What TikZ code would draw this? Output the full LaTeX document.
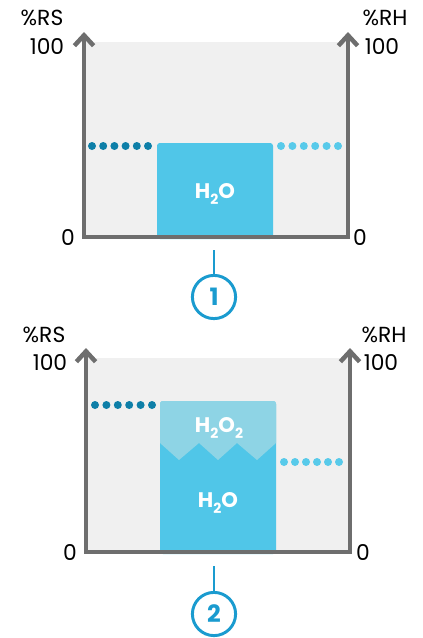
\documentclass[tikz,border=0pt]{standalone}
\usepackage{fontspec}
\setmainfont{Poppins}
\usepackage{tikz}
\usetikzlibrary{arrows.meta,positioning}
\definecolor{ejeGris}{HTML}{6E6E6E}
\definecolor{fondoGris}{HTML}{F0F0F0}
\definecolor{aguaAzul}{HTML}{50C6E8}
\definecolor{peroxAzul}{HTML}{8ED4E5}
\definecolor{puntoOscuro}{HTML}{0E7FA8}
\definecolor{puntoClaro}{HTML}{58CAEA}
\definecolor{marcaAzul}{HTML}{1A9BCF}
\newcommand{\indice}[1]{\raisebox{-0.55ex}{\fontsize{10}{10}\selectfont #1}}

\begin{document}
\begin{tikzpicture}[
    x=0.025cm, y=-0.025cm,
    eje/.style={draw=ejeGris, line width=3.2pt, line join=miter,
                {Straight Barb[length=2.6mm, width=4.8mm]}-{Straight Barb[length=2.6mm, width=4.8mm]}},
    valor/.style={font=\fontsize{15.5}{15.5}\selectfont, text=black, inner sep=0pt},
    formula/.style={font=\fontsize{15}{15}\selectfont\bfseries, text=white, inner sep=0pt},
    marca/.style={circle, draw=marcaAzul, line width=2.1pt, minimum size=1.08cm, inner sep=0pt,
                  text=marcaAzul, font=\fontsize{17}{17}\selectfont\bfseries},
    guia/.style={draw=marcaAzul, line width=2.1pt}
  ]
  \useasboundingbox (0,0) rectangle (422,638);

  % panel 1
  \fill[fondoGris] (84,42) rectangle (348,237);
  \fill[aguaAzul, rounded corners=2pt] (157,239) -- (157,143) -- (273,143) -- (273,239) -- cycle;
  \foreach \i in {0,...,5} {
    \fill[puntoOscuro] ({92+\i*11.2},146) circle[radius=0.1cm];
    \fill[puntoClaro] ({281+\i*11.4},146) circle[radius=0.1cm];
  }
  \draw[eje] (84,32) -- (84,237) -- (348,237) -- (348,32);
  \node[formula] (agua1) at (215,194) {H\indice{2}O};
  \node[valor] (rs1) at (42,18) {\%RS};
  \node[valor] (cien1i) at (47,46) {100};
  \node[valor] (rh1) at (385,18) {\%RH};
  \node[valor] (cien1d) at (382,46) {100};
  \node[valor] (cero1i) at (68,237) {0};
  \node[valor] (cero1d) at (360,237) {0};
  \coordinate (t1) at (214,250);
  \node[marca] (n1) at (214,297) {1};
  \draw[guia] (t1) -- (n1.north);

  % panel 2
  \fill[fondoGris] (86,358) rectangle (350,552);
  \fill[aguaAzul, rounded corners=2pt] (160,554) -- (160,401) -- (276,401) -- (276,554) -- cycle;
  \fill[peroxAzul, rounded corners=2pt] (160,443) -- (160,401) -- (276,401) -- (276,443)
    [sharp corners] -- (276,443) -- (257,460) -- (237,443) -- (218,460) -- (199,443) -- (179,460) -- (160,443);
  \foreach \i in {0,...,5} {
    \fill[puntoOscuro] ({95+\i*11.4},405) circle[radius=0.1cm];
    \fill[puntoClaro] ({284+\i*11},462) circle[radius=0.1cm];
  }
  \draw[eje] (86,348) -- (86,552) -- (350,552) -- (350,348);
  \node[formula] (perox2) at (219,428) {H\indice{2}O\indice{2}};
  \node[formula] (agua2) at (218,503) {H\indice{2}O};
  \node[valor] (rs2) at (44,335) {\%RS};
  \node[valor] (cien2i) at (50,362) {100};
  \node[valor] (rh2) at (384,335) {\%RH};
  \node[valor] (cien2d) at (381,362) {100};
  \node[valor] (cero2i) at (70,552) {0};
  \node[valor] (cero2d) at (363,552) {0};
  \coordinate (t2) at (214,566);
  \node[marca] (n2) at (214,614) {2};
  \draw[guia] (t2) -- (n2.north);
\end{tikzpicture}
\end{document}
